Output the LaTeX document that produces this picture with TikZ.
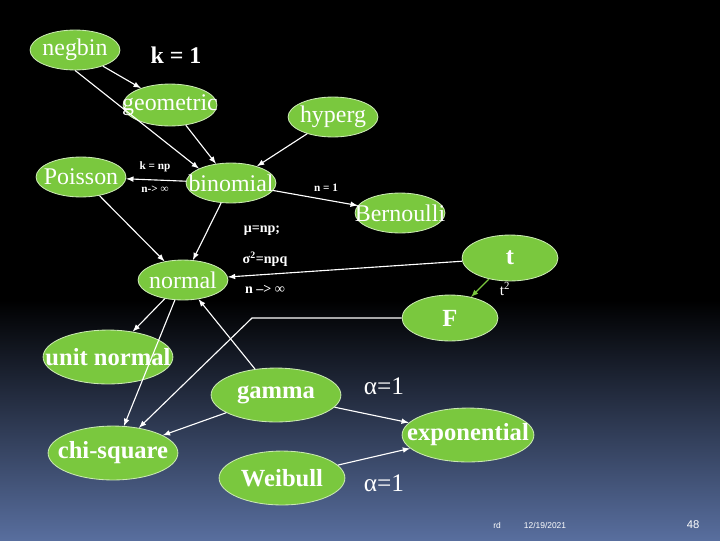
\documentclass[tikz,border=0pt]{standalone}
\usepackage{fontspec}
\setmainfont{Liberation Serif}
\setsansfont{Liberation Sans}
\usetikzlibrary{shapes.geometric}
\definecolor{leaf}{RGB}{122,200,62}
\definecolor{dusk}{RGB}{88,110,158}
\tikzset{
  dist/.style={ellipse,fill=leaf,draw=leaf!40!white,line width=0.6pt,inner sep=0pt,
    label={[text=white,font=\fontsize{17}{19}\selectfont]center:#1}},
  bdist/.style={ellipse,fill=leaf,draw=leaf!40!white,line width=0.6pt,inner sep=0pt,
    label={[text=white,font=\fontsize{17.5}{19}\selectfont\bfseries]center:#1}},
  size/.style 2 args={minimum width=0.71*#1,minimum height=0.71*#2},
  lab/.style={text=white,font=\fontsize{8}{10}\selectfont\bfseries},
  rel/.style={draw=white,thick,-latex}
}
\begin{document}
\begin{tikzpicture}[x=0.025cm,y=-0.025cm]
  \fill[black] (0,0) rectangle (720,300);
  \shade[top color=black,bottom color=dusk] (0,300) rectangle (720,540);
  \useasboundingbox (0,0) rectangle (720,540);

  \node[dist=negbin,size={90}{40}] (negbin) at (75,50) {};
  \node[dist=geometric,size={94}{42}] (geometric) at (170,105) {};
  \node[dist=hyperg,size={90}{40}] (hyperg) at (333,117) {};
  \node[dist=Poisson,size={90}{40}] (poisson) at (81,177) {};
  \node[dist=binomial,size={90}{40}] (binomial) at (231,183) {};
  \node[dist=Bernoulli,size={90}{40}] (bernoulli) at (400,213) {};
  \node[dist=normal,size={90}{40}] (normal) at (183,280) {};
  \node[bdist=t,size={96}{46}] (t) at (510,258) {};
  \node[bdist=F,size={96}{46}] (F) at (450,318) {};
  \node[bdist=unit normal,size={130}{54}] (unitnormal) at (108,357) {};
  \node[bdist=gamma,size={130}{54}] (gamma) at (276,395) {};
  \node[bdist=chi-square,size={130}{54}] (chisquare) at (113,453) {};
  \node[bdist=Weibull,size={126}{54}] (weibull) at (282,478) {};
  \node[bdist=exponential,size={132}{54}] (exponential) at (468,435) {};
  \coordinate (bend) at (252,318);

  \node[text=white,font=\fontsize{17}{19}\selectfont\bfseries] (k1) at (176,55) {k = 1};
  \node[lab] (knp) at (155,167) {k = np};
  \node[lab] (ninf) at (155,189) {n-> ∞};
  \node[lab] (n1) at (326,188) {n = 1};
  \node[lab,font=\fontsize{10}{12}\selectfont\bfseries] (mu) at (262,231) {μ=np;};
  \node[lab,font=\fontsize{10}{12}\selectfont\bfseries] (sigma) at (265,259) {σ\textsuperscript{2}=npq};
  \node[lab,font=\fontsize{10}{12}\selectfont\bfseries] (ninf2) at (265,289) {n --> ∞};
  \node[text=white,font=\fontsize{18}{20}\selectfont] (a1) at (384,386) {α=1};
  \node[text=white,font=\fontsize{18}{20}\selectfont] (a2) at (384,483) {α=1};
  \node[text=white,font=\fontsize{11}{13}\selectfont] (t2) at (505,289) {t\textsuperscript{2}};
  \node[text=white,font=\sffamily\fontsize{6}{8}\selectfont] (rd) at (497,525) {rd};
  \node[text=white,font=\sffamily\fontsize{6}{8}\selectfont] (date) at (545,525) {12/19/2021};
  \node[text=white,font=\sffamily\fontsize{8}{10}\selectfont] (page) at (693,525) {48};

  \draw[rel] (negbin) -- (geometric);
  \draw[rel] (negbin.south) -- (binomial.north west);
  \draw[rel] (geometric) -- (binomial);
  \draw[rel] (hyperg) -- (binomial);
  \draw[rel] (binomial) -- (poisson);
  \draw[rel] (binomial) -- (bernoulli);
  \draw[rel] (binomial) -- (normal);
  \draw[rel] (poisson) -- (normal);
  \draw[rel] (t) -- (normal);
  \draw[rel] (normal) -- (unitnormal);
  \draw[rel] (normal) -- (chisquare);
  \draw[rel] (gamma) -- (normal);
  \draw[rel] (F) -- (bend) -- (chisquare);
  \draw[rel] (gamma) -- (chisquare);
  \draw[rel] (gamma) -- (exponential);
  \draw[rel] (weibull) -- (exponential);
  \draw[draw=leaf,thick,-latex] (t) -- (F);
\end{tikzpicture}
\end{document}
